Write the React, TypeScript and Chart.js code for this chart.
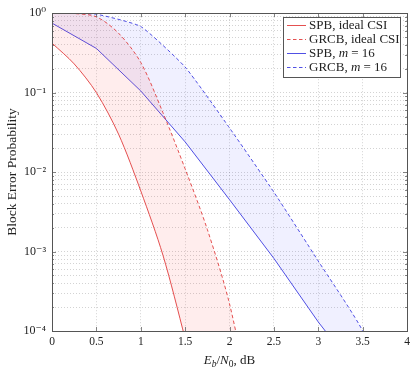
import React, { useEffect, useRef } from "react";
import { Chart, registerables } from "chart.js";
Chart.register(...registerables);

// ---- data ----
const spbIdealX = [0, 0.25, 0.5, 0.75, 1, 1.25, 1.5, 1.75, 2, 2.25];
const spbIdealY = [0.42, 0.23, 0.1, 0.03, 0.0058, 0.0009, 0.00008, 0.000006, 0.0000004, 0.00000003];
const grcbIdealX = [0, 0.25, 0.5, 0.75, 1, 1.25, 1.5, 1.75, 2, 2.25];
const grcbIdealY = [1, 0.99, 0.9, 0.56, 0.24, 0.056, 0.011, 0.0019, 0.00022, 0.00001];
const spbM16X = [0, 0.5, 1, 1.5, 2, 2.5, 3, 3.5, 3.75];
const spbM16Y = [0.75, 0.36, 0.105, 0.024, 0.0045, 0.00082, 0.00013, 0.000025, 0.00001];
const grcbM16X = [0, 0.5, 1, 1.5, 2, 2.5, 3, 3.5, 3.75];
const grcbM16Y = [1, 0.97, 0.68, 0.21, 0.036, 0.0056, 0.00076, 0.0001, 0.00001];

const xTickValues = [0, 0.5, 1, 1.5, 2, 2.5, 3, 3.5, 4];
const yDecades = [-4, -3, -2, -1, 0];
const yMinorMultipliers = [2, 3, 4, 5, 6, 7, 8, 9];
const supDigits: Record<string, string> = { "0": "⁰", "1": "¹", "2": "²", "3": "³", "4": "⁴", "-": "⁻" };

const legendItems = [
  { label: "SPB, ideal CSI", color: "rgb(225,60,60)", dash: [] as number[], m: false },
  { label: "GRCB, ideal CSI", color: "rgb(225,60,60)", dash: [3.5, 2.5], m: false },
  { label: "SPB, ", color: "rgb(60,60,225)", dash: [] as number[], m: true },
  { label: "GRCB, ", color: "rgb(60,60,225)", dash: [3.5, 2.5], m: true },
];

const FONT = "'Liberation Serif', 'DejaVu Serif', serif";
const RED = "rgb(225,60,60)";
const BLUE = "rgb(60,60,225)";

const toPts = (xs: number[], ys: number[]) => xs.map((x, i) => ({ x, y: ys[i] }));

const yGridValues: number[] = [];
yDecades.forEach((d) => {
  yGridValues.push(Math.pow(10, d));
  if (d < 0) yMinorMultipliers.forEach((m) => yGridValues.push(m * Math.pow(10, d)));
});
yGridValues.sort((a, b) => a - b);

const framePlugin = {
  id: "frameAndExtras",
  afterDraw(chart: any) {
    const { ctx, chartArea: a } = chart;
    const xs = chart.scales.x;
    const ys = chart.scales.y;
    ctx.save();
    // ticks inside the frame
    ctx.strokeStyle = "#666";
    ctx.lineWidth = 0.8;
    ctx.setLineDash([]);
    ctx.beginPath();
    xTickValues.forEach((v) => {
      const px = Math.round(xs.getPixelForValue(v)) + 0.5;
      ctx.moveTo(px, a.bottom);
      ctx.lineTo(px, a.bottom - 4);
      ctx.moveTo(px, a.top);
      ctx.lineTo(px, a.top + 4);
    });
    yGridValues.forEach((v) => {
      const py = Math.round(ys.getPixelForValue(v)) + 0.5;
      const major = Math.abs(Math.log10(v) - Math.round(Math.log10(v))) < 1e-9;
      const len = major ? 4 : 2;
      ctx.moveTo(a.left, py);
      ctx.lineTo(a.left + len, py);
      ctx.moveTo(a.right, py);
      ctx.lineTo(a.right - len, py);
    });
    ctx.stroke();
    // frame
    ctx.strokeStyle = "#555";
    ctx.lineWidth = 1;
    ctx.strokeRect(Math.round(a.left) + 0.5, Math.round(a.top) + 0.5, Math.round(a.right - a.left), Math.round(a.bottom - a.top));

    // legend
    const lx = 283, ly = 17, lw = 117, lh = 60;
    ctx.fillStyle = "#fff";
    ctx.fillRect(lx, ly, lw, lh);
    ctx.strokeStyle = "#555";
    ctx.strokeRect(lx + 0.5, ly + 0.5, lw, lh);
    legendItems.forEach((it, i) => {
      const cy = 25 + i * 14;
      ctx.strokeStyle = it.color;
      ctx.lineWidth = 0.9;
      ctx.setLineDash(it.dash);
      ctx.beginPath();
      ctx.moveTo(287, cy + 0.5);
      ctx.lineTo(306, cy + 0.5);
      ctx.stroke();
      ctx.setLineDash([]);
      ctx.fillStyle = "#222";
      ctx.textBaseline = "middle";
      ctx.textAlign = "left";
      ctx.font = `13px ${FONT}`;
      let tx = 309;
      ctx.fillText(it.label, tx, cy + 1);
      if (it.m) {
        tx += ctx.measureText(it.label).width;
        ctx.font = `italic 13px ${FONT}`;
        ctx.fillText("m", tx, cy + 1);
        tx += ctx.measureText("m").width;
        ctx.font = `13px ${FONT}`;
        ctx.fillText(" = 16", tx, cy + 1);
      }
    });

    // x axis title: E_b/N_0, dB
    const parts = [
      { t: "E", f: `italic 13px ${FONT}`, dy: 0 },
      { t: "b", f: `italic 9.5px ${FONT}`, dy: 2.5 },
      { t: "/", f: `13px ${FONT}`, dy: 0 },
      { t: "N", f: `italic 13px ${FONT}`, dy: 0 },
      { t: "0", f: `9.5px ${FONT}`, dy: 2.5 },
      { t: ", dB", f: `13px ${FONT}`, dy: 0 },
    ];
    let total = 0;
    parts.forEach((p) => {
      ctx.font = p.f;
      total += ctx.measureText(p.t).width;
    });
    let px = (a.left + a.right) / 2 - total / 2;
    const base = 364;
    ctx.fillStyle = "#222";
    ctx.textBaseline = "alphabetic";
    parts.forEach((p) => {
      ctx.font = p.f;
      ctx.fillText(p.t, px, base + p.dy);
      px += ctx.measureText(p.t).width;
    });
    ctx.restore();
  },
};

export default function App() {
  const ref = useRef<HTMLCanvasElement | null>(null);
  useEffect(() => {
    if (!ref.current) return;
    const chart = new Chart(ref.current, {
      type: "line",
      data: {
        datasets: [
          {
            label: "SPB, ideal CSI",
            data: toPts(spbIdealX, spbIdealY),
            borderColor: RED,
            borderWidth: 0.9,
            pointRadius: 0,
            tension: 0.3,
            fill: false,
          },
          {
            label: "GRCB, ideal CSI",
            data: toPts(grcbIdealX, grcbIdealY),
            borderColor: RED,
            borderWidth: 0.9,
            borderDash: [3.5, 2.5],
            pointRadius: 0,
            tension: 0.3,
            fill: { target: 0 },
            backgroundColor: "rgba(255,60,60,0.09)",
          },
          {
            label: "SPB, m = 16",
            data: toPts(spbM16X, spbM16Y),
            borderColor: BLUE,
            borderWidth: 0.9,
            pointRadius: 0,
            tension: 0,
            fill: false,
          },
          {
            label: "GRCB, m = 16",
            data: toPts(grcbM16X, grcbM16Y),
            borderColor: BLUE,
            borderWidth: 0.9,
            borderDash: [3.5, 2.5],
            pointRadius: 0,
            tension: 0.15,
            fill: { target: 2 },
            backgroundColor: "rgba(60,60,255,0.08)",
          },
        ],
      },
      options: {
        animation: false,
        responsive: false,
        maintainAspectRatio: false,
        layout: { padding: { top: 9, right: 8, left: 0, bottom: 0 } },
        plugins: { legend: { display: false }, tooltip: { enabled: false } },
        scales: {
          x: {
            type: "linear",
            min: 0,
            max: 4,
            afterBuildTicks: (s: any) => {
              s.ticks = xTickValues.map((v) => ({ value: v }));
            },
            afterFit: (s: any) => {
              s.height = 39;
            },
            ticks: {
              font: { family: FONT, size: 11.5 },
              color: "#222",
              padding: 4,
              maxRotation: 0,
              autoSkip: false,
              callback: (v: any) => String(Number(v)),
            },
            grid: { color: "rgba(0,0,0,0.22)", lineWidth: 0.8, drawTicks: false },
            border: { display: false, dash: [1, 2] },
          },
          y: {
            type: "logarithmic",
            min: 1e-4,
            max: 1,
            afterBuildTicks: (s: any) => {
              s.ticks = yGridValues.map((v) => ({ value: v }));
            },
            afterFit: (s: any) => {
              s.width = 52;
            },
            ticks: {
              font: { family: FONT, size: 12 },
              color: "#222",
              padding: 6,
              autoSkip: false,
              callback: (v: any) => {
                const l = Math.log10(Number(v));
                if (Math.abs(l - Math.round(l)) > 1e-9) return "";
                const e = String(Math.round(l)).split("").map((c) => supDigits[c]).join("");
                return "10" + e;
              },
            },
            title: {
              display: true,
              text: "Block Error Probability",
              font: { family: FONT, size: 13.5 },
              color: "#222",
              padding: { top: 4, bottom: 2 },
            },
            grid: { color: "rgba(0,0,0,0.22)", lineWidth: 0.8, drawTicks: false },
            border: { display: false, dash: [1, 2] },
          },
        },
      },
      plugins: [framePlugin],
    });
    return () => chart.destroy();
  }, []);
  return (
    <div style={{ position: "fixed", left: 0, top: 0, width: 415, height: 370, background: "#fff" }}>
      <canvas ref={ref} width={415} height={370} style={{ width: 415, height: 370 }} />
    </div>
  );
}
